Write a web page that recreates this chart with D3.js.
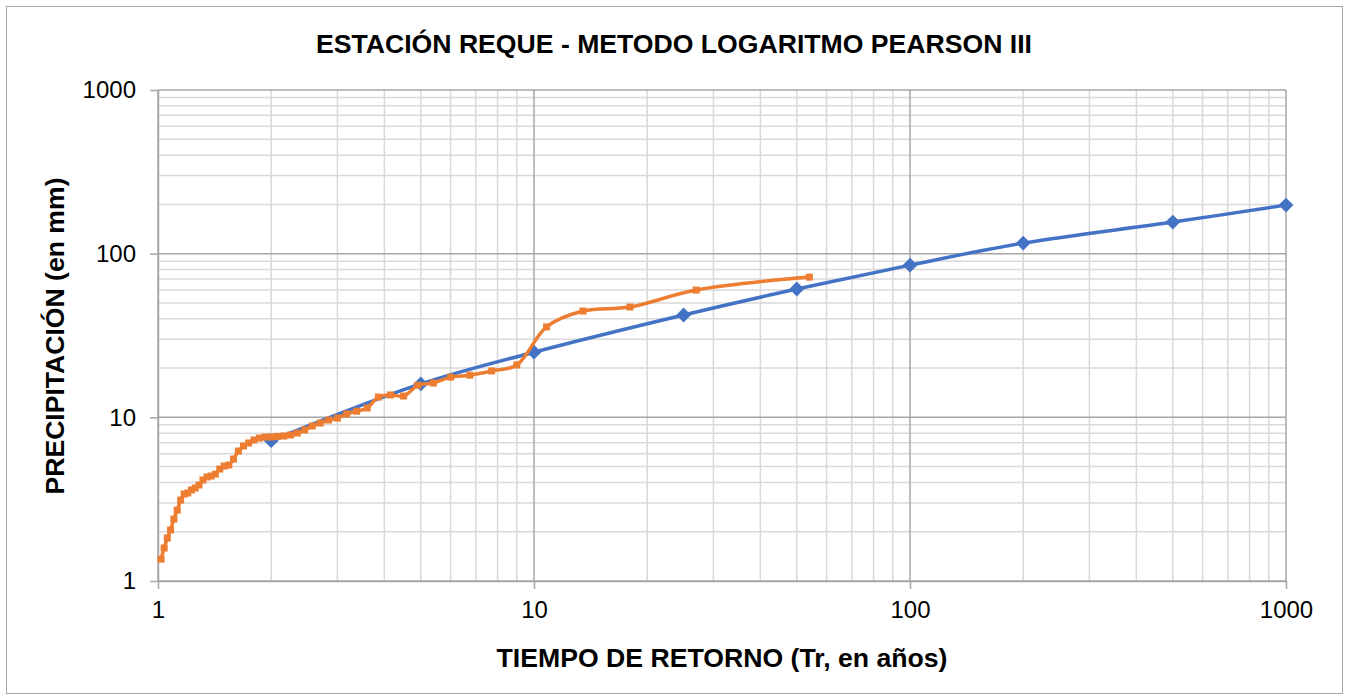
<!DOCTYPE html>
<html>
<head>
<meta charset="utf-8">
<script src="https://cdn.jsdelivr.net/npm/d3@7"></script>
<style>
  body { margin: 0; background: #fff; }
  svg text { font-family: "Liberation Sans", Arial, sans-serif; fill: #000; }
</style>
</head>
<body>
<div id="chart"></div>
<script>
// return periods of the Log Pearson III fit (blue)
var trFit = [2, 5, 10, 25, 50, 100, 200, 500, 1000];
var ppFit = [7.2, 16.0, 25.0, 42.2, 60.8, 85.1, 116, 156, 198];

// observed series, Weibull plotting position Tr = (n+1)/m, n = 53
var nObs = 53;
var ppObs = [71.9, 59.9, 47.2, 44.6, 35.7, 20.9, 19.2, 18.1, 17.6, 16.2,
             15.7, 13.5, 13.7, 13.3, 11.4, 10.9, 10.5, 9.9, 9.62, 9.23,
             8.85, 8.37, 8.02, 7.80, 7.69, 7.64, 7.58, 7.58, 7.47, 7.27,
             6.97, 6.68, 6.22, 5.56, 5.11, 5.04, 4.83, 4.50, 4.38, 4.32,
             4.14, 3.86, 3.70, 3.60, 3.45, 3.40, 3.12, 2.71, 2.39, 2.05,
             1.83, 1.59, 1.36];
var trObs = ppObs.map(function(d, i) { return (nObs + 1) / (i + 1); });

var decadeTicks = [1, 10, 100, 1000];
var title = "ESTACIÓN REQUE - METODO LOGARITMO PEARSON III";
var xTitle = "TIEMPO DE RETORNO (Tr, en años)";
var yTitle = "PRECIPITACIÓN (en mm)";

var W = 1346, H = 700;
var plotL = 158, plotR = 1286, plotT = 90, plotB = 581;

var svg = d3.select("#chart").append("svg").attr("width", W).attr("height", H);

svg.append("rect").attr("x", 6.5).attr("y", 6.5).attr("width", 1336).attr("height", 687)
  .attr("fill", "#fff").attr("stroke", "#a6a6a6");

var x = d3.scaleLog().domain([1, 1000]).range([plotL, plotR]);
var y = d3.scaleLog().domain([1, 1000]).range([plotB, plotT]);

// minor values 2..9 per decade
var minor = [];
[1, 10, 100].forEach(function(d) {
  for (var k = 2; k <= 9; k++) minor.push(d * k);
});

var grid = svg.append("g");
grid.selectAll(".vmin").data(minor).enter().append("line")
  .attr("x1", function(d) { return x(d); }).attr("x2", function(d) { return x(d); })
  .attr("y1", plotT).attr("y2", plotB)
  .attr("stroke", "#d9d9d9").attr("stroke-width", 1.5);
grid.selectAll(".hmin").data(minor).enter().append("line")
  .attr("y1", function(d) { return y(d); }).attr("y2", function(d) { return y(d); })
  .attr("x1", plotL).attr("x2", plotR)
  .attr("stroke", "#d9d9d9").attr("stroke-width", 1.5);
grid.selectAll(".vmaj").data(decadeTicks).enter().append("line")
  .attr("x1", function(d) { return x(d); }).attr("x2", function(d) { return x(d); })
  .attr("y1", plotT).attr("y2", plotB)
  .attr("stroke", "#a6a6a6").attr("stroke-width", 1.5);
grid.selectAll(".hmaj").data(decadeTicks).enter().append("line")
  .attr("y1", function(d) { return y(d); }).attr("y2", function(d) { return y(d); })
  .attr("x1", plotL).attr("x2", plotR)
  .attr("stroke", "#a6a6a6").attr("stroke-width", 1.5);

// axes
var xAxis = d3.axisBottom(x).tickValues(decadeTicks).tickFormat(d3.format("d"))
  .tickSizeInner(8).tickSizeOuter(0).tickPadding(12);
var yAxis = d3.axisLeft(y).tickValues(decadeTicks).tickFormat(d3.format("d"))
  .tickSizeInner(8).tickSizeOuter(0).tickPadding(14);

var gx = svg.append("g").attr("transform", "translate(0," + plotB + ")").call(xAxis);
var gy = svg.append("g").attr("transform", "translate(" + plotL + ",0)").call(yAxis);
[gx, gy].forEach(function(g) {
  g.selectAll("path, line").attr("stroke", "#a6a6a6").attr("stroke-width", 1.5);
  g.selectAll("text").attr("font-size", 24).attr("font-family", "Liberation Sans, Arial, sans-serif").attr("fill", "#000");
});

// series
var line = d3.line()
  .x(function(d) { return x(d[0]); })
  .y(function(d) { return y(d[1]); })
  .curve(d3.curveCatmullRom.alpha(0.5));

var fitPts = trFit.map(function(d, i) { return [d, ppFit[i]]; });
var obsPts = trObs.map(function(d, i) { return [d, ppObs[i]]; }).reverse();

svg.append("path").datum(fitPts).attr("d", line)
  .attr("fill", "none").attr("stroke", "#4472c4").attr("stroke-width", 3.5);
svg.selectAll(".dia").data(fitPts).enter().append("path")
  .attr("d", d3.symbol().type(d3.symbolDiamond2).size(140))
  .attr("transform", function(d) { return "translate(" + x(d[0]) + "," + y(d[1]) + ")"; })
  .attr("fill", "#4472c4");

svg.append("path").datum(obsPts).attr("d", line)
  .attr("fill", "none").attr("stroke", "#ed7d31").attr("stroke-width", 3.5);
svg.selectAll(".sq").data(obsPts).enter().append("rect")
  .attr("x", function(d) { return x(d[0]) - 3.5; })
  .attr("y", function(d) { return y(d[1]) - 3.5; })
  .attr("width", 7).attr("height", 7)
  .attr("fill", "#ed7d31");

// titles
svg.append("text").attr("x", 674).attr("y", 53).attr("text-anchor", "middle")
  .attr("font-size", 26).attr("font-weight", "bold")
  .attr("textLength", 716).attr("lengthAdjust", "spacingAndGlyphs")
  .text(title);
svg.append("text").attr("x", 722).attr("y", 667).attr("text-anchor", "middle")
  .attr("font-size", 26).attr("font-weight", "bold")
  .attr("textLength", 451).attr("lengthAdjust", "spacingAndGlyphs")
  .text(xTitle);
svg.append("text").attr("transform", "translate(64,336) rotate(-90)").attr("text-anchor", "middle")
  .attr("font-size", 26).attr("font-weight", "bold")
  .attr("textLength", 317).attr("lengthAdjust", "spacingAndGlyphs")
  .text(yTitle);
</script>
</body>
</html>
